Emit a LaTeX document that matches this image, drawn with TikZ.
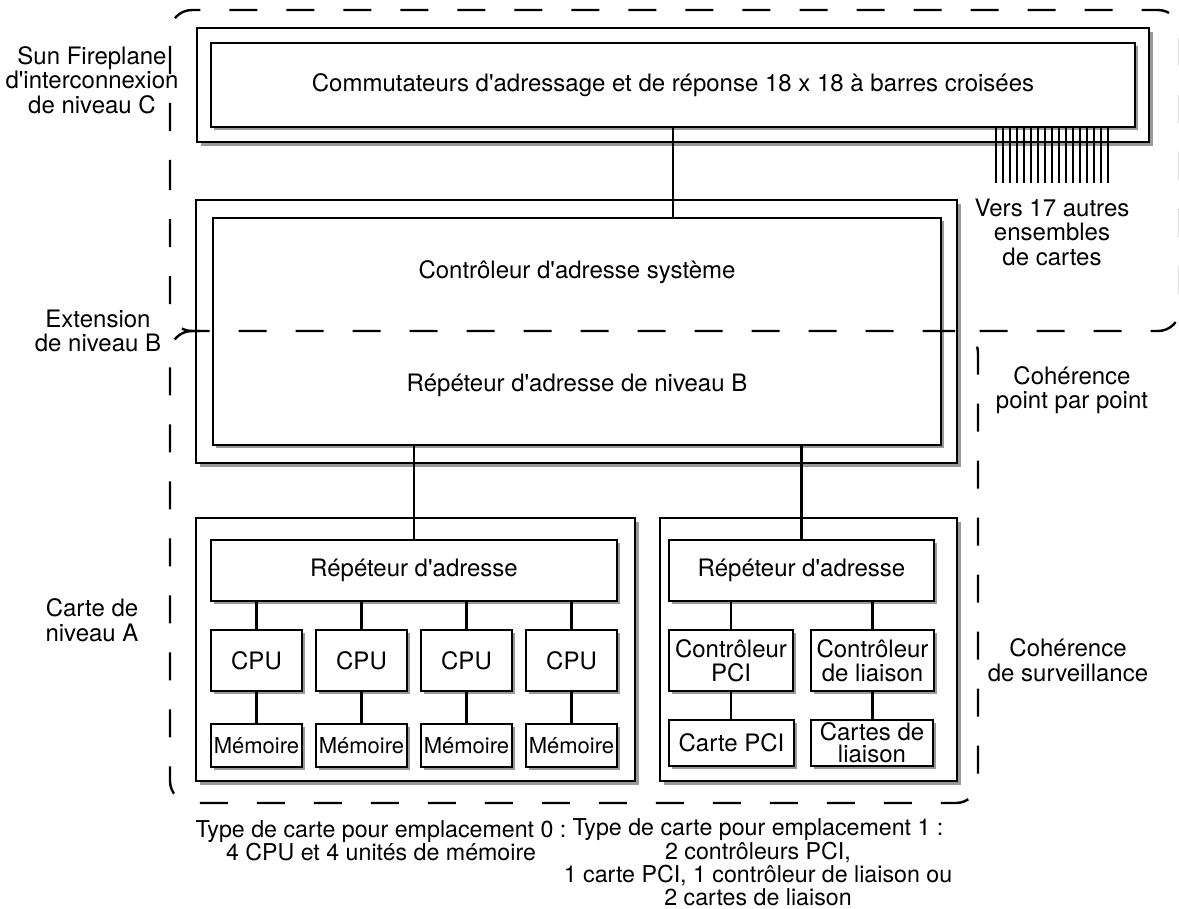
\documentclass[tikz,border=0pt]{standalone}
\usepackage{fontspec}
\setmainfont{TeX Gyre Heros}[Ligatures=TeXOff]
\usetikzlibrary{shadows}

\begin{document}
\begin{tikzpicture}[x=1pt,y=-1pt,thick,node distance=85pt,
        every node/.style={font=\fontsize{24}{24.5}\selectfont},
        board/.style={draw,fill=white,line width=1.2pt,inner sep=0pt,
          drop shadow={shadow xshift=4pt,shadow yshift=-4pt,fill=black!40,opacity=1}},
        chip/.style={draw,fill=white,line width=1.2pt,inner sep=0pt,align=center,
          font=\fontsize{24}{23.5}\selectfont,
          drop shadow={shadow xshift=3pt,shadow yshift=-3pt,fill=black!40,opacity=1}},
        cpu/.style={chip,minimum width=91pt,minimum height=61pt},
        mem/.style={chip,minimum width=91pt,minimum height=43pt,font=\fontsize{22}{23}\selectfont},
        wire/.style={line width=2.4pt},
        region/.style={line width=2.4pt,dash pattern=on 28pt off 29pt,rounded corners=22pt},
        note/.style={align=center},
        slotnote/.style={align=center,inner sep=0pt,font=\fontsize{23.2}{23.3}\selectfont}]
        \useasboundingbox (0,0) rectangle (1179,909);

        % niveau C
        \node[board,minimum width=952pt,minimum height=114pt] (cboard) at (673,85) {};
        \node[chip,minimum width=924pt,minimum height=84pt] (xbar) at (673,85)
          {Commutateurs d'adressage et de réponse 18 x 18 à barres croisées};
        \foreach \i in {0,...,16}
          \draw[line width=2pt] ([xshift={-140pt+7pt*\i}]xbar.south east) -- ++(0,55);

        % niveau B
        \node[board,minimum width=761pt,minimum height=263pt] (bboard) at (576.5,331.5) {};
        \node[chip,minimum width=728pt,minimum height=227pt] (asc) at (577,331.5) {};
        \node (asctxt) at (577,272) {Contrôleur d'adresse système};
        \node (rptBtxt) at (577,385) {Répéteur d'adresse de niveau B};

        % carte emplacement 0
        \node[board,minimum width=439pt,minimum height=263pt] (slot0) at (415.5,649.5) {};
        \node[chip,minimum width=406pt,minimum height=61pt] (rpt0) at (414,570.5) {Répéteur d'adresse};
        \foreach \i in {0,...,3} {
          \node[cpu] (cpu\i) at (256.5+105*\i,660.5) {CPU};
          \node[mem] (mem\i) [below of=cpu\i] {Mémoire};
          \path[every edge/.append style={wire}]
          (rpt0.south -| cpu\i.north) edge (cpu\i.north)
          (cpu\i.south) edge (mem\i.north);
        }

        % carte emplacement 1
        \node[board,minimum width=297pt,minimum height=263pt] (slot1) at (808.5,649.5) {};
        \node[chip,minimum width=265pt,minimum height=61pt] (rpt1) at (801.5,570.5) {Répéteur d'adresse};
        \node[chip,minimum width=124pt,minimum height=61pt] (pcictl) at (731,660.5) {Contrôleur\\PCI};
        \node[chip,minimum width=123pt,minimum height=61pt] (lnkctl) at (872.5,660.5) {Contrôleur\\de liaison};
        \node[chip,minimum width=125pt,minimum height=46pt] (pcicard) at (731.5,743) {Carte PCI};
        \node[chip,minimum width=122pt,minimum height=46pt,font=\fontsize{24}{22}\selectfont]
          (lnkcard) at (872,743) {Cartes de\\liaison};

        \path[every edge/.append style={wire}]
        (xbar.south) edge (xbar.south |- asc.north)
        (asc.south -| rpt0.north) edge (rpt0.north)
        (asc.south -| rpt1.north) edge (rpt1.north)
        (rpt1.south -| pcictl.north) edge (pcictl.north)
        (rpt1.south -| lnkctl.north) edge (lnkctl.north)
        (pcictl.south) edge (pcictl.south |- pcicard.north)
        (lnkctl.south) edge (lnkctl.south |- lnkcard.north)
        ;

        % domaines de coherence
        \draw[region,dash phase=10pt] (170,200) -- (170,10) -- (1180,10) -- (1180,331) -- (170,331) -- cycle;
        \draw[region] (200,331) -- (170,331) -- (170,803) -- (978,803) -- (978,331) -- (950,331);

        % legendes
        \node[note] (lvlC) at (92,80) {Sun Fireplane\\d'interconnexion\\de niveau C};
        \node[note] (lvlB) at (98,331) {Extension\\de niveau B};
        \node[note] (lvlA) at (92,620) {Carte de\\niveau A};
        \node[note] (vers) at (1052,232) {Vers 17 autres\\ensembles\\de cartes};
        \node[note] (p2p) at (1072,390) {Cohérence\\point par point};
        \node[note] (snoop) at (1068,660) {Cohérence\\de surveillance};
        \node[slotnote] (type0) at (381,840.5) {Type de carte pour emplacement 0 :\\4 CPU et 4 unités de mémoire};
        \node[slotnote] (type1) at (758,862.5) {Type de carte pour emplacement 1 :\\2 contrôleurs PCI,\\1 carte PCI, 1 contrôleur de liaison ou\\2 cartes de liaison};
\end{tikzpicture}
\end{document}
